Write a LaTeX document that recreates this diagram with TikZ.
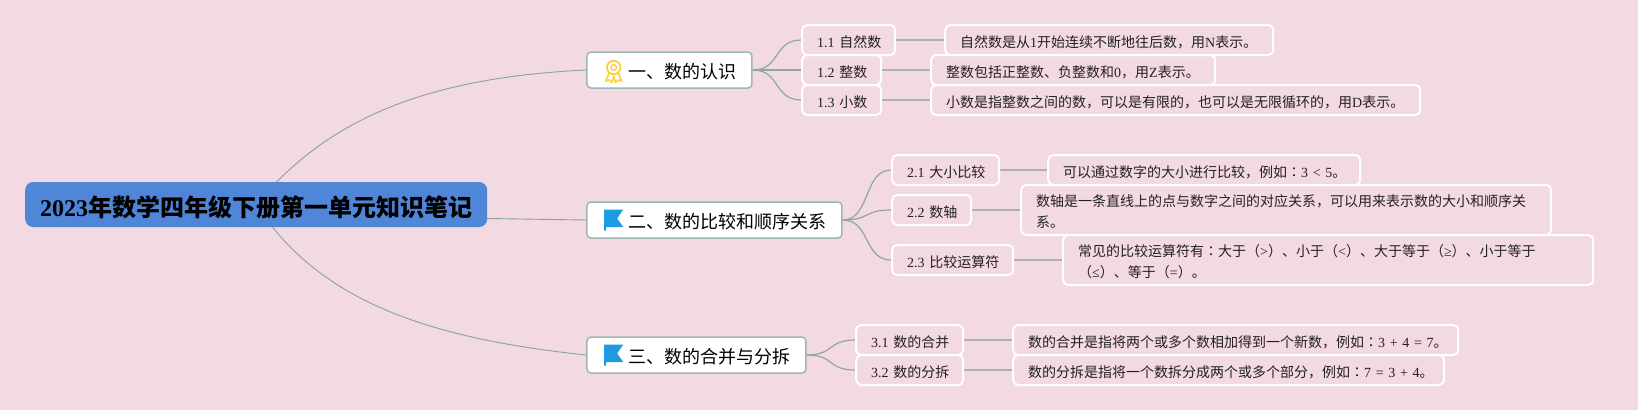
\documentclass[tikz,border=0pt]{standalone}
\usepackage{fontspec}
\setmainfont{Noto Sans CJK SC}
\newfontfamily\latfont{Liberation Serif}
\newfontfamily\colonfont{Noto Sans CJK TC}
\newcommand{\ltn}[1]{{\latfont #1}}
\newcommand{\cln}{{\colonfont ：}}
\usetikzlibrary{backgrounds,calc}
\definecolor{pagebg}{HTML}{F3D9E1}
\definecolor{rootblue}{HTML}{4F86D8}
\definecolor{branchedge}{HTML}{9DB8B0}
\definecolor{rootline}{HTML}{87A39A}
\definecolor{subline}{HTML}{8DA8A0}
\definecolor{descline}{HTML}{A9B2AC}
\definecolor{inktext}{HTML}{222222}
\definecolor{medal}{HTML}{F8D044}
\definecolor{flagblue}{HTML}{1C9BE0}
\tikzset{
  rootbox/.style={fill=rootblue,rounded corners=8pt,inner xsep=0pt,inner ysep=0pt,
    minimum width=462pt,minimum height=45pt,anchor=west,text=black,
    font=\fontsize{24}{28}\selectfont\bfseries,
    execute at begin node={\rule[-3pt]{0pt}{29.6pt}}},
  branchbox/.style={draw=branchedge,line width=1.5pt,fill=white,rounded corners=4pt,
    inner xsep=16pt,inner ysep=0pt,minimum height=36pt,anchor=west,align=left,xshift=-0.8pt,
    text=black,font=\fontsize{18}{22}\selectfont,
    execute at begin node={\rule[-2.5pt]{0pt}{21.5pt}}},
  leafbox/.style={draw=white,line width=2pt,rounded corners=5pt,inner xsep=15pt,inner ysep=0pt,
    anchor=west,align=left,text=inktext,font=\fontsize{14}{21}\selectfont,minimum height=30pt,xshift=-0.8pt,
    execute at begin node={\rule{0pt}{16pt}},
    execute at end node={\rule[-2pt]{0pt}{2pt}}},
  rootcurve/.style={draw=rootline,line width=0.9pt},
  subcurve/.style={draw=subline,line width=1.2pt},
  descrule/.style={draw=descline,line width=1.5pt},
}
\begin{document}
\begin{tikzpicture}[x=1pt,y=-1pt]
\useasboundingbox (0,0) rectangle (1638,410);
% root
\node[rootbox] (root) at (25,204.5) {\ltn{\bfseries 2023}年数学四年级下册第一单元知识笔记};
% branches
\node[branchbox,text width=133pt] (b1) at (587,70) {\hspace*{26pt}一、数的认识};
\node[branchbox,text width=223pt] (b2) at (587,220) {\hspace*{26pt}二、数的比较和顺序关系};
\node[branchbox,text width=187pt] (b3) at (587,355) {\hspace*{26pt}三、数的合并与分拆};
% sub topics
\node[leafbox,text width=63pt] (s11) at (802,40) {\ltn{1.1~}自然数};
\node[leafbox,text width=49pt] (s12) at (802,70) {\ltn{1.2~}整数};
\node[leafbox,text width=49pt] (s13) at (802,100) {\ltn{1.3~}小数};
\node[leafbox,text width=77pt] (s21) at (892,170) {\ltn{2.1~}大小比较};
\node[leafbox,text width=49pt] (s22) at (892,210) {\ltn{2.2~}数轴};
\node[leafbox,text width=91pt] (s23) at (892,260) {\ltn{2.3~}比较运算符};
\node[leafbox,text width=77pt] (s31) at (856,340) {\ltn{3.1~}数的合并};
\node[leafbox,text width=77pt] (s32) at (856,370) {\ltn{3.2~}数的分拆};
% descriptions
\node[leafbox,text width=298pt] (d11) at (945,40) {自然数是从\ltn{1}开始连续不断地往后数，用\ltn{N}表示。};
\node[leafbox,text width=254pt] (d12) at (931,70) {整数包括正整数、负整数和\ltn{0}，用\ltn{Z}表示。};
\node[leafbox,text width=459pt] (d13) at (931,100) {小数是指整数之间的数，可以是有限的，也可以是无限循环的，用\ltn{D}表示。};
\node[leafbox,text width=282pt] (d21) at (1048,170) {可以通过数字的大小进行比较，例如\cln\ltn{3~<~5}。};
\node[leafbox,text width=500pt,minimum height=50pt] (d22) at (1021,210) {数轴是一条直线上的点与数字之间的对应关系，可以用来表示数的大小和顺序关\\系。};
\node[leafbox,text width=500pt,minimum height=50pt] (d23) at (1063,260) {常见的比较运算符有\cln 大于（\ltn{>}）、小于（\ltn{<}）、大于等于（\ltn{≥}）、小于等于\\（\ltn{≤}）、等于（\ltn{=}）。};
\node[leafbox,text width=415pt] (d31) at (1013,340) {数的合并是指将两个或多个数相加得到一个新数，例如\cln\ltn{3~+~4~=~7}。};
\node[leafbox,text width=401pt] (d32) at (1013,370) {数的分拆是指将一个数拆分成两个或多个部分，例如\cln\ltn{7~=~3~+~4}。};
% icons
\begin{scope}[shift={(b1.west)}]
  \draw[medal,line width=1.8pt] (27.5,-2.5) circle (6.8);
  \draw[medal,line width=1.5pt] (27.5,-2.5) circle (2.8);
  \draw[medal,line width=1.6pt,line join=round] (23,3) -- (19.5,11) -- (23,10) -- (25.5,12.5) -- (28,6);
  \draw[medal,line width=1.6pt,line join=round] (32,3) -- (35.5,11) -- (32,10) -- (29.5,12.5) -- (27,6);
\end{scope}
\foreach \b in {b2,b3}{
  \begin{scope}[shift={(\b.west)}]
    \fill[flagblue] (18,-10.5) -- (37,-10.5) -- (31,-1.5) -- (37,7) -- (20,7) -- (20,10.5) -- (18,10.5) -- cycle;
  \end{scope}
}
% connectors
\begin{scope}[on background layer]
  \fill[pagebg] (0,0) rectangle (1638,410);
  \draw[rootcurve] (root.center) .. controls (325,122) and (420,78) .. (b1.west);
  \draw[rootcurve] (root.center) .. controls (300,216) and (450,218) .. (b2.west);
  \draw[rootcurve] (root.center) .. controls (318,300) and (425,338) .. (b3.west);
  \foreach \s in {s11,s12,s13}{\draw[subcurve] (b1.east) .. controls +(28,0) and ($(\s.west)+(-28,0)$) .. (\s.west);}
  \foreach \s in {s21,s22,s23}{\draw[subcurve] (b2.east) .. controls +(28,0) and ($(\s.west)+(-28,0)$) .. (\s.west);}
  \foreach \s in {s31,s32}{\draw[subcurve] (b3.east) .. controls +(28,0) and ($(\s.west)+(-28,0)$) .. (\s.west);}
  \draw[descrule] (s11.east) -- (d11.west);
  \draw[descrule] (s12.east) -- (d12.west);
  \draw[descrule] (s13.east) -- (d13.west);
  \draw[descrule] (s21.east) -- (d21.west);
  \draw[descrule] (s22.east) -- (d22.west);
  \draw[descrule] (s23.east) -- (d23.west);
  \draw[descrule] (s31.east) -- (d31.west);
  \draw[descrule] (s32.east) -- (d32.west);
\end{scope}
\end{tikzpicture}
\end{document}
